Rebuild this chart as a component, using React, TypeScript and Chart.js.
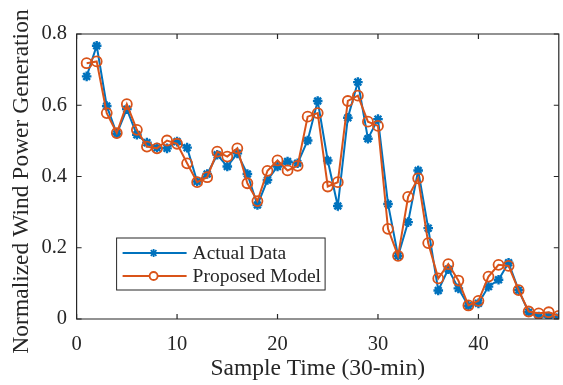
import React, { useEffect, useRef } from "react";
import { Chart, registerables } from "chart.js";

Chart.register(...registerables);

const sampleTimes = [
  1, 2, 3, 4, 5, 6, 7, 8, 9, 10, 11, 12, 13, 14, 15, 16, 17, 18, 19, 20, 21, 22, 23, 24,
  25, 26, 27, 28, 29, 30, 31, 32, 33, 34, 35, 36, 37, 38, 39, 40, 41, 42, 43, 44, 45, 46, 47, 48,
];

const actualData = [
  0.681, 0.767, 0.598, 0.52, 0.589, 0.517, 0.495, 0.481, 0.479, 0.498,
  0.481, 0.386, 0.407, 0.461, 0.428, 0.465, 0.407, 0.32, 0.39, 0.428,
  0.442, 0.437, 0.501, 0.612, 0.445, 0.317, 0.565, 0.665, 0.506, 0.561,
  0.323, 0.177, 0.272, 0.417, 0.255, 0.08, 0.14, 0.086, 0.037, 0.044,
  0.091, 0.11, 0.158, 0.081, 0.019, 0.007, 0.007, 0.005,
];

const proposedModel = [
  0.718, 0.723, 0.578, 0.522, 0.603, 0.531, 0.484, 0.479, 0.501, 0.492,
  0.437, 0.384, 0.398, 0.47, 0.456, 0.479, 0.381, 0.331, 0.416, 0.445,
  0.417, 0.43, 0.568, 0.578, 0.372, 0.384, 0.612, 0.627, 0.554, 0.542,
  0.253, 0.177, 0.343, 0.395, 0.213, 0.114, 0.154, 0.108, 0.038, 0.051,
  0.119, 0.152, 0.149, 0.081, 0.021, 0.016, 0.019, 0.009,
];

const xTickValues = [0, 10, 20, 30, 40];
const yTickValues = [0, 0.2, 0.4, 0.6, 0.8];
const yTickLabels = ["0", "0.2", "0.4", "0.6", "0.8"];

const seriesNames = ["Actual Data", "Proposed Model"];
const xTitle = "Sample Time (30-min)";
const yTitle = "Normalized Wind Power Generation";

const BLUE = "#0072BD";
const ORANGE = "#D95319";
const AXIS = "#262626";
const FONT = "'Liberation Serif', 'Times New Roman', serif";

const boxPlugin = {
  id: "matlabBox",
  afterDatasetsDraw(chart: any) {
    const { ctx, chartArea } = chart;
    const xs = chart.scales.x;
    const ys = chart.scales.y;
    const { left, right, top, bottom } = chartArea;
    ctx.save();
    ctx.strokeStyle = AXIS;
    ctx.lineWidth = 1.2;
    ctx.beginPath();
    ctx.rect(left, top, right - left, bottom - top);
    ctx.stroke();
    const tl = 5;
    ctx.beginPath();
    xTickValues.forEach((v) => {
      const px = xs.getPixelForValue(v);
      ctx.moveTo(px, bottom);
      ctx.lineTo(px, bottom - tl);
      ctx.moveTo(px, top);
      ctx.lineTo(px, top + tl);
    });
    yTickValues.forEach((v) => {
      const py = ys.getPixelForValue(v);
      ctx.moveTo(left, py);
      ctx.lineTo(left + tl, py);
      ctx.moveTo(right, py);
      ctx.lineTo(right - tl, py);
    });
    ctx.stroke();

    // y-axis title (drawn here so it can sit slightly below the axis centre, as in the reference)
    ctx.save();
    ctx.translate(22, (top + bottom) / 2 + 5);
    ctx.rotate(-Math.PI / 2);
    ctx.fillStyle = AXIS;
    ctx.font = `23.5px ${FONT}`;
    ctx.textAlign = "center";
    ctx.textBaseline = "middle";
    ctx.fillText(yTitle, 0, 0);
    ctx.restore();

    // legend
    const lx = left + 40;
    const ly = top + 204;
    const lw = 208.5;
    const lh = 52;
    ctx.fillStyle = "#ffffff";
    ctx.fillRect(lx, ly, lw, lh);
    ctx.strokeStyle = AXIS;
    ctx.lineWidth = 1;
    ctx.strokeRect(lx, ly, lw, lh);
    const rows = [
      { color: BLUE, style: "star", y: ly + 15, r: 4 },
      { color: ORANGE, style: "circle", y: ly + 38, r: 4 },
    ];
    rows.forEach((row, i) => {
      ctx.strokeStyle = row.color;
      ctx.lineWidth = 2;
      ctx.beginPath();
      ctx.moveTo(lx + 6, row.y);
      ctx.lineTo(lx + 70, row.y);
      ctx.stroke();
      const cx = lx + 37;
      ctx.lineWidth = 1.8;
      if (row.style === "circle") {
        ctx.fillStyle = "#ffffff";
        ctx.beginPath();
        ctx.arc(cx, row.y, row.r, 0, Math.PI * 2);
        ctx.fill();
        ctx.stroke();
      } else {
        ctx.beginPath();
        for (let k = 0; k < 4; k++) {
          const a = (k * Math.PI) / 4;
          ctx.moveTo(cx - Math.cos(a) * row.r, row.y - Math.sin(a) * row.r);
          ctx.lineTo(cx + Math.cos(a) * row.r, row.y + Math.sin(a) * row.r);
        }
        ctx.stroke();
      }
      ctx.fillStyle = AXIS;
      ctx.font = `19.5px ${FONT}`;
      ctx.textBaseline = "middle";
      ctx.textAlign = "left";
      ctx.fillText(seriesNames[i], lx + 76, row.y + 1);
    });
    ctx.restore();
  },
};

export default function App() {
  const canvasRef = useRef<HTMLCanvasElement | null>(null);

  useEffect(() => {
    document.body.style.margin = "0";
    const canvas = canvasRef.current;
    if (!canvas) return;
    const chart = new Chart(canvas, {
      type: "line",
      data: {
        datasets: [
          {
            label: seriesNames[1],
            data: sampleTimes.map((t, i) => ({ x: t, y: proposedModel[i] })),
            borderColor: ORANGE,
            backgroundColor: "rgba(0,0,0,0)",
            borderWidth: 2,
            pointStyle: "circle",
            pointRadius: 5,
            pointBorderWidth: 1.8,
            pointBorderColor: ORANGE,
            pointBackgroundColor: "rgba(0,0,0,0)",
            tension: 0,
            order: 0,
          },
          {
            label: seriesNames[0],
            data: sampleTimes.map((t, i) => ({ x: t, y: actualData[i] })),
            borderColor: BLUE,
            backgroundColor: BLUE,
            borderWidth: 2,
            pointStyle: "star",
            pointRadius: 4.8,
            pointBorderWidth: 2.4,
            pointBorderColor: BLUE,
            tension: 0,
            order: 1,
          },
        ],
      },
      options: {
        responsive: false,
        animation: false,
        devicePixelRatio: 1,
        layout: { padding: { top: 34, right: 2, left: 0, bottom: 0 } },
        plugins: {
          legend: { display: false },
          tooltip: { enabled: false },
        },
        scales: {
          x: {
            type: "linear",
            min: 0,
            max: 48,
            afterFit: (scale: any) => {
              scale.height = 66;
            },
            afterBuildTicks: (scale: any) => {
              scale.ticks = xTickValues.map((v) => ({ value: v }));
            },
            grid: { display: false, drawTicks: false },
            border: { display: false },
            ticks: {
              color: AXIS,
              font: { family: FONT, size: 20.5 },
              padding: 13,
              maxRotation: 0,
              autoSkip: false,
              callback: (v: any) => String(v),
            },
            title: {
              display: true,
              text: xTitle,
              color: AXIS,
              font: { family: FONT, size: 23.5 },
              padding: { top: 0, bottom: 2 },
            },
          },
          y: {
            type: "linear",
            min: 0,
            max: 0.8,
            afterFit: (scale: any) => {
              scale.width = 76.6;
            },
            afterBuildTicks: (scale: any) => {
              scale.ticks = yTickValues.map((v) => ({ value: v }));
            },
            grid: { display: false, drawTicks: false },
            border: { display: false },
            ticks: {
              color: AXIS,
              font: { family: FONT, size: 20.5 },
              padding: 9.5,
              autoSkip: false,
              callback: (v: any) => {
                const idx = yTickValues.findIndex((t) => Math.abs(t - v) < 1e-9);
                return idx >= 0 ? yTickLabels[idx] : "";
              },
            },
            title: { display: false, text: yTitle },
          },
        },
      },
      plugins: [boxPlugin],
    });
    return () => chart.destroy();
  }, []);

  return (
    <div style={{ position: "fixed", left: 0, top: 0, width: 563, height: 385, overflow: "hidden", background: "#fff" }}>
      <canvas ref={canvasRef} width={566} height={385} style={{ display: "block", width: 566, height: 385 }} />
    </div>
  );
}
